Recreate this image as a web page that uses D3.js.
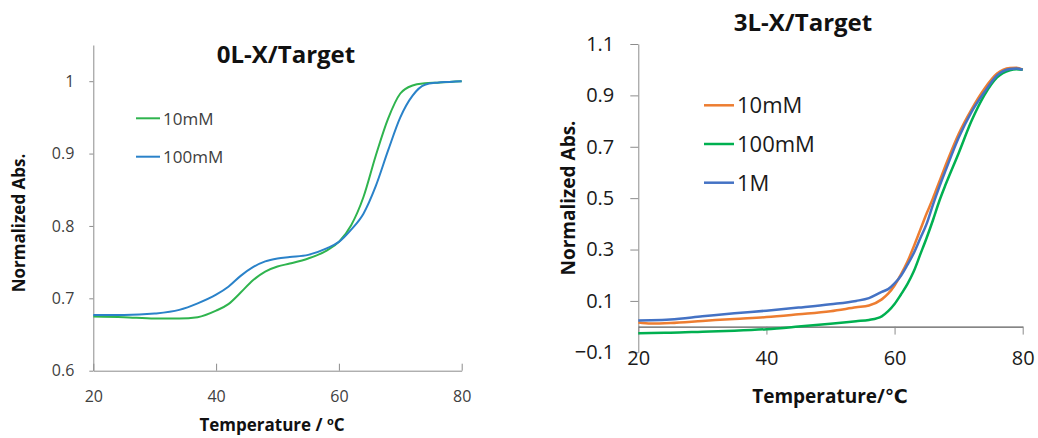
<!DOCTYPE html>
<html>
<head>
<meta charset="utf-8">
<script src="https://cdn.jsdelivr.net/npm/d3@7"></script>
<style>
  body { margin: 0; background: #fff; }
  svg { font-family: "Open Sans", "DejaVu Sans", sans-serif; }
</style>
</head>
<body>
<div id="d3_container"></div>
<script>
// ---- data ----
// left panel: 0L-X/Target
var leftTemps = [20, 25, 30, 34, 37, 40, 42, 44, 46, 48, 50, 52, 55, 58, 60, 62, 64, 66, 68, 70, 72, 74, 76, 78, 80];
var left10mM  = [0.675, 0.674, 0.672, 0.672, 0.674, 0.683, 0.692, 0.708, 0.725, 0.737, 0.744, 0.748, 0.755, 0.766, 0.778,
                 0.801, 0.840, 0.897, 0.948, 0.983, 0.994, 0.997, 0.998, 0.999, 1.000];
var left100mM = [0.677, 0.677, 0.679, 0.684, 0.693, 0.705, 0.716, 0.731, 0.743, 0.751, 0.755, 0.757, 0.760, 0.769, 0.778,
                 0.795, 0.817, 0.855, 0.904, 0.950, 0.980, 0.995, 0.998, 0.999, 1.000];
var leftNames = ["10mM", "100mM"];
var leftYTicks = [0.6, 0.7, 0.8, 0.9, 1];

// right panel: 3L-X/Target
var rightTemps = [20, 22, 25, 30, 35, 40, 45, 50, 54, 56, 58, 59, 60, 61, 62, 63, 64, 65, 66, 67, 68, 70, 72, 74, 76, 78, 79, 80];
var right10mM  = [0.016, 0.012, 0.014, 0.022, 0.030, 0.037, 0.048, 0.060, 0.075, 0.082, 0.106, 0.128, 0.160, 0.203,
                  0.252, 0.312, 0.376, 0.440, 0.500, 0.565, 0.630, 0.750, 0.845, 0.925, 0.985, 1.007, 1.008, 1.000];
var right100mM = [-0.026, -0.025, -0.024, -0.020, -0.016, -0.010, 0.000, 0.011, 0.021, 0.026, 0.040, 0.060, 0.088, 0.125,
                  0.165, 0.215, 0.280, 0.345, 0.415, 0.490, 0.555, 0.675, 0.800, 0.900, 0.970, 0.998, 1.002, 1.000];
var right1M    = [0.024, 0.025, 0.028, 0.040, 0.052, 0.062, 0.074, 0.087, 0.100, 0.111, 0.135, 0.146, 0.168, 0.198,
                  0.240, 0.286, 0.343, 0.400, 0.475, 0.545, 0.610, 0.735, 0.835, 0.912, 0.978, 1.003, 1.005, 1.000];
var rightNames = ["10mM", "100mM", "1M"];
var rightYTicks = [-0.1, 0.1, 0.3, 0.5, 0.7, 0.9, 1.1];

var xTicks = [20, 40, 60, 80];

var width = 1038, height = 438;

var svg = d3.select("#d3_container").append("svg")
    .attr("width", width)
    .attr("height", height);

function toPoints(temps, vals) {
    return temps.map(function(t, i) { return {t: t, v: vals[i]}; });
}

// ================= left panel =================
var xL = d3.scaleLinear().domain([20, 80]).range([93.3, 461.7]);
var yL = d3.scaleLinear().domain([0.6, 1.05]).range([370.7, 45]);
var gL = svg.append("g");

gL.append("g")
    .attr("transform", "translate(0," + yL(0.6) + ")")
    .call(d3.axisBottom(xL).tickValues(xTicks).tickSizeInner(-7).tickSizeOuter(0).tickPadding(20))
    .call(function(a) {
        a.select(".domain").attr("stroke", "#8c8c8c");
        a.selectAll(".tick line").attr("stroke", "#8c8c8c");
        a.selectAll("text").attr("font-size", 16).attr("fill", "#404040")
            .attr("font-family", "Open Sans");
    });

gL.append("g")
    .attr("transform", "translate(" + xL(20) + ",0)")
    .call(d3.axisLeft(yL).tickValues(leftYTicks).tickSizeInner(4).tickSizeOuter(0).tickPadding(15)
        .tickFormat(function(d) { return d3.format("~g")(d); }))
    .call(function(a) {
        a.select(".domain").attr("stroke", "#8c8c8c");
        a.selectAll(".tick line").attr("stroke", "#8c8c8c");
        a.selectAll("text").attr("font-size", 16).attr("fill", "#404040")
            .attr("font-family", "Open Sans");
    });

var lineL = d3.line()
    .x(function(d) { return xL(d.t); })
    .y(function(d) { return yL(d.v); })
    .curve(d3.curveMonotoneX);

var leftSeries = [left10mM, left100mM];
var leftColors = ["#2fb44e", "#2a82c9"];

gL.selectAll("path.series")
    .data(leftSeries)
    .enter().append("path")
    .attr("class", "series")
    .attr("fill", "none")
    .attr("stroke", function(d, i) { return leftColors[i]; })
    .attr("stroke-width", 2)
    .attr("d", function(d) { return lineL(toPoints(leftTemps, d)); });

// legend
var legL = gL.selectAll("g.leg").data(leftNames).enter().append("g")
    .attr("class", "leg")
    .attr("transform", function(d, i) { return "translate(136," + (118.3 + i * 38.4) + ")"; });
legL.append("line").attr("x1", 0).attr("x2", 24)
    .attr("stroke", function(d, i) { return leftColors[i]; }).attr("stroke-width", 2);
legL.append("text").attr("x", 27).attr("y", 6.5)
    .attr("font-size", 17).attr("fill", "#404040")
    .text(function(d) { return d; });

gL.append("text")
    .attr("x", 286).attr("y", 62.7)
    .attr("text-anchor", "middle")
    .attr("font-size", 24).attr("font-weight", "bold").attr("fill", "#111")
    .text("0L-X/Target");

var xtL = gL.append("text")
    .attr("x", 272).attr("y", 431)
    .attr("text-anchor", "middle")
    .attr("font-size", 17).attr("font-weight", "bold").attr("fill", "#111");
xtL.append("tspan").text("Temperature / ");
xtL.append("tspan").attr("font-size", 11).attr("dy", -6).text("o");
xtL.append("tspan").attr("dy", 6).text("C");

gL.append("text")
    .attr("transform", "translate(25,223) rotate(-90)")
    .attr("text-anchor", "middle")
    .attr("font-size", 17).attr("font-weight", "bold").attr("fill", "#111")
    .text("Normalized Abs.");

// ================= right panel =================
var xR = d3.scaleLinear().domain([20, 80]).range([638.3, 1022.7]);
var yR = d3.scaleLinear().domain([-0.1, 1.1]).range([352.3, 44]);
var gR = svg.append("g");

gR.append("g")
    .attr("transform", "translate(" + xR(20) + ",0)")
    .call(d3.axisLeft(yR).tickValues(rightYTicks).tickSizeInner(8).tickSizeOuter(0).tickPadding(16)
        .tickFormat(d3.format(".1f")))
    .call(function(a) {
        a.select(".domain").attr("stroke", "#8c8c8c");
        a.selectAll(".tick line").attr("stroke", "#8c8c8c");
        a.selectAll("text").attr("font-size", 20).attr("fill", "#1a1a1a")
            .attr("font-family", "Open Sans");
    });

gR.append("g")
    .attr("transform", "translate(0," + yR(0) + ")")
    .call(d3.axisBottom(xR).tickValues(xTicks).tickSizeInner(8).tickSizeOuter(0).tickPadding(15.8))
    .call(function(a) {
        a.select(".domain").attr("stroke", "#333");
        a.selectAll(".tick line").attr("stroke", "#8c8c8c");
        a.selectAll("text").attr("font-size", 20).attr("fill", "#1a1a1a")
            .attr("font-family", "Open Sans");
    });

var lineR = d3.line()
    .x(function(d) { return xR(d.t); })
    .y(function(d) { return yR(d.v); })
    .curve(d3.curveMonotoneX);

var rightSeries = [right10mM, right100mM, right1M];
var rightColors = ["#ed7d31", "#00b050", "#4472c4"];

gR.selectAll("path.series")
    .data(rightSeries)
    .enter().append("path")
    .attr("class", "series")
    .attr("fill", "none")
    .attr("stroke", function(d, i) { return rightColors[i]; })
    .attr("stroke-width", 2.5)
    .attr("d", function(d) { return lineR(toPoints(rightTemps, d)); });

var legR = gR.selectAll("g.leg").data(rightNames).enter().append("g")
    .attr("class", "leg")
    .attr("transform", function(d, i) { return "translate(704," + (105.3 + i * 38.7) + ")"; });
legR.append("line").attr("x1", 0).attr("x2", 30)
    .attr("stroke", function(d, i) { return rightColors[i]; }).attr("stroke-width", 2.5);
legR.append("text").attr("x", 33).attr("y", 7.8)
    .attr("font-size", 22).attr("fill", "#1a1a1a")
    .text(function(d) { return d; });

gR.append("text")
    .attr("x", 803).attr("y", 30.7)
    .attr("text-anchor", "middle")
    .attr("font-size", 24).attr("font-weight", "bold").attr("fill", "#111")
    .text("3L-X/Target");

gR.append("text")
    .attr("x", 830).attr("y", 403)
    .attr("text-anchor", "middle")
    .attr("font-size", 19).attr("font-weight", "bold").attr("fill", "#111")
    .text("Temperature/℃");

gR.append("text")
    .attr("transform", "translate(575,198) rotate(-90)")
    .attr("text-anchor", "middle")
    .attr("font-size", 19).attr("font-weight", "bold").attr("fill", "#111")
    .text("Normalized Abs.");
</script>
</body>
</html>
